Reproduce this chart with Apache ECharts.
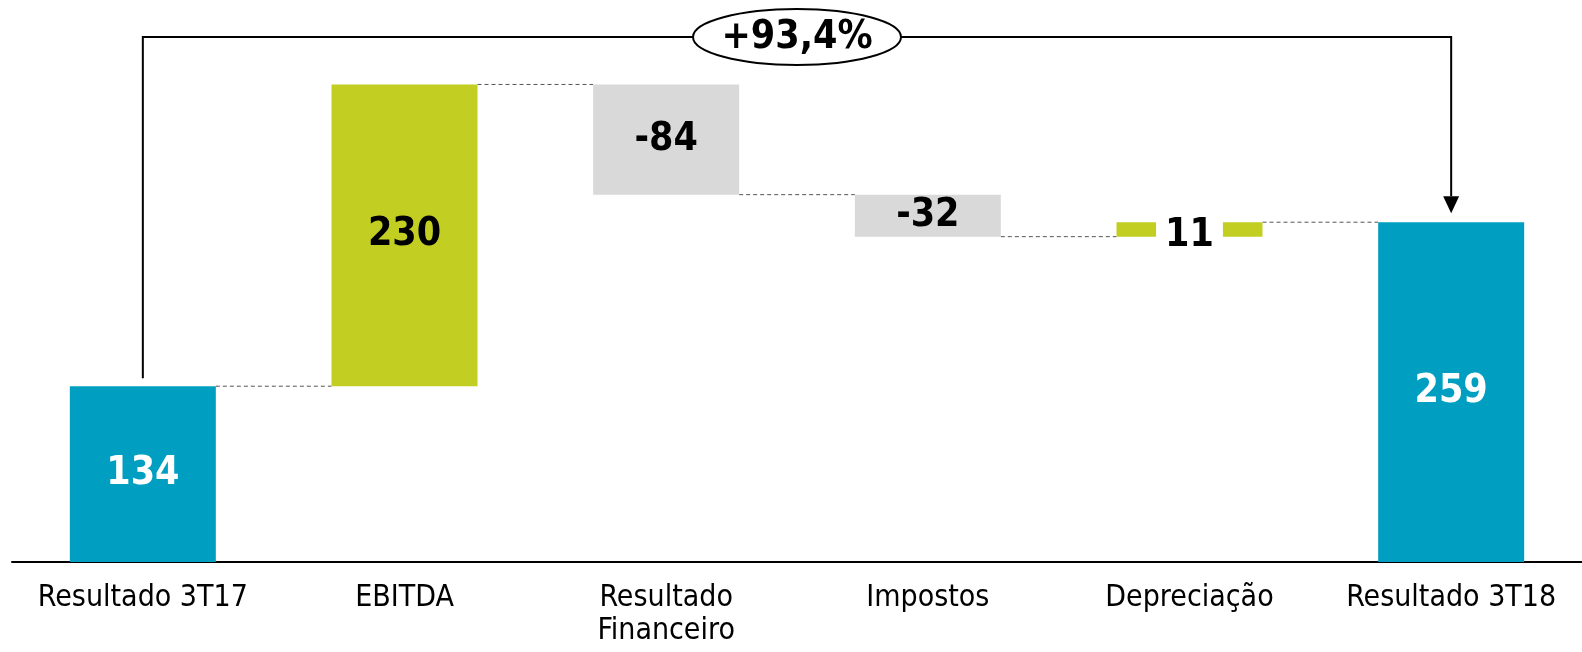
<!DOCTYPE html>
<html>
<head>
<meta charset="utf-8">
<script src="https://cdn.jsdelivr.net/npm/echarts@6/dist/echarts.min.js"></script>
<style>html,body{margin:0;padding:0;background:#fff}#c{width:1582px;height:652px}</style>
</head>
<body>
<div id="c"></div>
<script>
const categories = ['Resultado 3T17', 'EBITDA', 'Resultado\nFinanceiro', 'Impostos', 'Depreciação', 'Resultado 3T18'];
const values = [134, 230, -84, -32, 11, 259];
const kinds = ['total', 'up', 'down', 'down', 'up', 'total'];
const changeLabel = '+93,4%';

const COLORS = { total: '#009FC2', up: '#C2CF22', down: '#D9D9D9' };
const FONT = '"DejaVu Sans Condensed", "DejaVu Sans", sans-serif';
const BAR_W = 146;

const bases = [], heights = [], levels = [];
let running = 0;
values.forEach((v, i) => {
  const k = kinds[i];
  if (k === 'total') { bases.push(0); heights.push(v); running = v; }
  else if (v >= 0) { bases.push(running); heights.push(v); running += v; }
  else { bases.push(running + v); heights.push(-v); running += v; }
  levels.push(running);
});

const visData = heights.map((h, i) => {
  const k = kinds[i];
  const item = {
    value: h,
    itemStyle: { color: COLORS[k] },
    label: {
      show: true, position: 'inside',
      formatter: String(values[i]),
      color: k === 'total' ? '#ffffff' : '#000000',
      fontFamily: FONT, fontWeight: 'bold', fontSize: 39
    }
  };
  if (categories[i] === 'Depreciação') {
    item.label.backgroundColor = '#ffffff';
    item.label.padding = [4, 9, 0, 9];
    item.label.offset = [0, 6];
  }
  return item;
});

const connectorData = levels.slice(0, -1).map((lv, i) => [i, lv]);

const chart = echarts.init(document.getElementById('c'), null, { renderer: 'canvas' });
chart.setOption({
  animation: false,
  grid: { left: 12, right: 0, top: 11, bottom: 90, containLabel: false },
  xAxis: {
    type: 'category', data: categories,
    axisLine: { lineStyle: { color: '#000', width: 2 } },
    axisTick: { show: false },
    axisLabel: { color: '#000', fontFamily: FONT, fontSize: 30, lineHeight: 33, margin: 20, interval: 0 }
  },
  yAxis: { type: 'value', min: 0, max: 420, show: false, splitLine: { show: false } },
  series: [
    { type: 'bar', stack: 'w', data: bases, itemStyle: { color: 'transparent' }, barWidth: BAR_W, silent: true },
    { type: 'bar', stack: 'w', data: visData, barWidth: BAR_W },
    {
      type: 'custom', data: connectorData, z: 1,
      renderItem: function (params, api) {
        const p = api.coord([api.value(0), api.value(1)]);
        const step = api.size([1, 0])[0];
        return {
          type: 'line',
          shape: { x1: p[0] + BAR_W / 2, y1: p[1], x2: p[0] + step - BAR_W / 2, y2: p[1] },
          style: { stroke: '#555', lineWidth: 1, lineDash: [4, 3] }
        };
      }
    },
    {
      type: 'custom', data: [[0, values[0], categories.length - 1, values[values.length - 1]]], z: 5,
      renderItem: function (params, api) {
        const a = api.coord([api.value(0), api.value(1)]);
        const b = api.coord([api.value(2), api.value(3)]);
        const topY = 37;
        const startY = a[1] - 8;
        const tipY = b[1] - 9;
        const headH = 17, headW = 8;
        const mx = (a[0] + b[0]) / 2;
        return {
          type: 'group',
          children: [
            { type: 'polyline', shape: { points: [[a[0], startY], [a[0], topY], [b[0], topY], [b[0], tipY - headH]] },
              style: { stroke: '#000', lineWidth: 2, fill: null } },
            { type: 'polygon', shape: { points: [[b[0] - headW, tipY - headH], [b[0] + headW, tipY - headH], [b[0], tipY]] },
              style: { fill: '#000' } },
            { type: 'ellipse', shape: { cx: mx, cy: topY, rx: 104, ry: 28 },
              style: { fill: '#fff', stroke: '#000', lineWidth: 2 } },
            { type: 'text', x: mx, y: topY + 1,
              style: { text: changeLabel, fill: '#000', font: 'bold 39px ' + FONT, align: 'center', verticalAlign: 'middle' } }
          ]
        };
      }
    }
  ]
});
</script>
</body>
</html>
